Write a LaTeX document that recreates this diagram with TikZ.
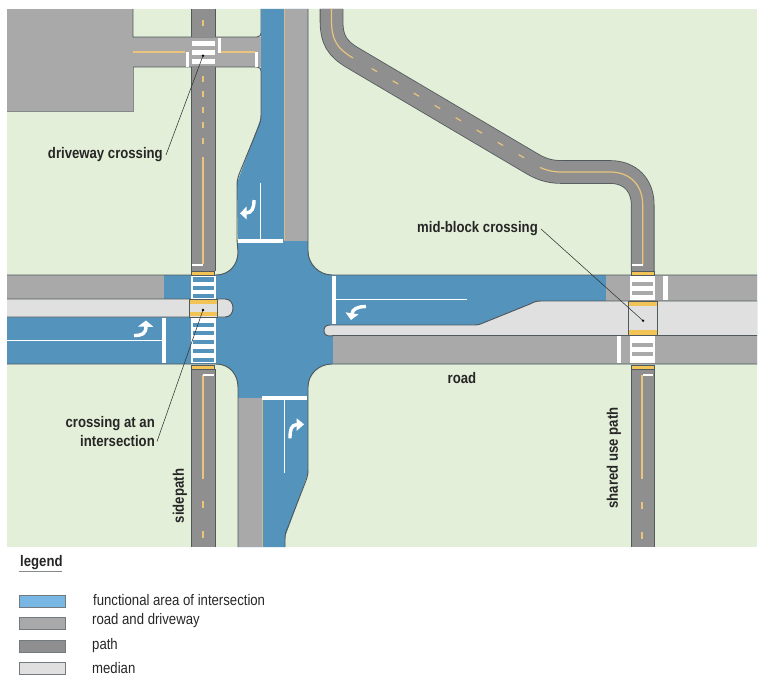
\documentclass[tikz,border=0pt]{standalone}
\usepackage{fontspec}
\setmainfont{Liberation Sans}[FakeStretch=0.86]
\definecolor{grass}{HTML}{E4EFD9}
\definecolor{roadc}{HTML}{A9A9A9}
\definecolor{pathc}{HTML}{8F8F8F}
\definecolor{laneb}{HTML}{5393BC}
\definecolor{medc}{HTML}{E0E0E0}
\definecolor{legb}{HTML}{78B6E4}
\definecolor{edge}{HTML}{50595C}
\definecolor{stripe}{HTML}{E8C47C}
\definecolor{barc}{HTML}{F2C355}
\definecolor{tan}{HTML}{CDBE8C}
\tikzset{
  x=1pt,y=-1pt,
  curb/.style={draw=edge,line width=.95pt},
  yline/.style={draw=stripe,line width=1.2pt},
  wbar/.style={fill=white},
  lane/.style={draw=white,line width=0.8pt},
  callout/.style={font=\bfseries\fontsize{15.3}{17}\selectfont,inner sep=0pt,text=black!85},
  leader/.style={draw=black!80,line width=0.55pt},
  swatch/.style={draw=edge!80,line width=0.9pt,minimum width=46pt,minimum height=12pt,inner sep=0pt,anchor=north west},
  legtext/.style={font=\fontsize{15.3}{17}\selectfont,inner sep=0pt,anchor=west,text=black!85},
}
\newcommand{\turnarrow}[7]{%
  \draw[white,line width=3.4pt] #1 .. controls #2 and #3 .. #4;
  \fill[white] #5 -- #6 -- #7 -- cycle;}
\newcommand{\meanderline}{(331.5,9) -- (331.5,20) .. controls (331.5,40) and (337,48.5) .. (353,58) -- (530,162.5) .. controls (540,168.5) and (548,172) .. (562,172) -- (610,172) .. controls (630,172) and (642.7,185) .. (642.7,205) -- (642.7,271)}
\begin{document}
\begin{tikzpicture}
\useasboundingbox (0,0) rectangle (765,682);
\fill[grass] (7,9) rectangle (757,547);
% driveway and parking block
\fill[roadc] (7,9) rectangle (133,112);
\fill[roadc] (133,37) rectangle (262,67);
\draw[edge!70,line width=1pt] (7,112) -- (133,112) -- (133,67);
\draw[curb] (133,9) -- (133,37) -- (257,37) .. controls (260,37) and (261,35) .. (261,33) -- (261,9);
\draw[curb] (133,67) -- (257,67) .. controls (260,67) and (261,69) .. (261,71);
% blue road surface
\fill[laneb] (261,9) -- (308,9) -- (308,251) .. controls (308,264) and (319,275) .. (332,275)
  -- (757,275) -- (757,364) -- (332,364) .. controls (319,364) and (308,374) .. (308,387)
  -- (308,473) -- (285,537) -- (285,547) -- (238,547) -- (238,387)
  .. controls (238,374) and (229,364) .. (216,364) -- (7,364) -- (7,275) -- (216,275)
  .. controls (229,275) and (238,265) .. (238,252) -- (237,183) -- (261,118) -- cycle;
% gray parts of the road
\fill[roadc] (284,9) rectangle (308,241);
\fill[roadc] (238,398) rectangle (262,547);
\fill[roadc] (7,275) rectangle (164,299);
\fill[roadc] (606,275) rectangle (757,302);
\fill[roadc] (333,335) rectangle (757,364);
\draw[tan,line width=1pt] (284,9) -- (284,240);
\draw[tan,line width=1pt] (262,398) -- (262,547);
% medians
\draw[curb,fill=medc] (7,299) -- (225,299) .. controls (230,299) and (233,303) .. (233,308) .. controls (233,313) and (230,317) .. (225,317) -- (7,317);
\draw[curb,fill=medc] (757,301) -- (541,301) .. controls (536,301) and (534,302) .. (530,304) -- (483,323) .. controls (479,325) and (476,325) .. (472,325) -- (330,325) .. controls (326,325) and (324,327) .. (324,330.5) .. controls (324,334) and (326,336) .. (330,336) -- (334,335.5) -- (757,335.5);
% curbs
\draw[curb] (261,71) -- (261,115) .. controls (261,120) and (260,123) .. (258,128) -- (240,172) .. controls (238,177) and (237,180) .. (237,186) -- (237,240) -- (238,252) .. controls (238,265) and (229,275) .. (216,275) -- (7,275);
\draw[curb] (308,9) -- (308,251) .. controls (308,264) and (319,275) .. (332,275) -- (757,275);
\draw[curb] (7,364) -- (216,364) .. controls (229,364) and (238,374) .. (238,387) -- (238,547);
\draw[curb] (757,364) -- (332,364) .. controls (319,364) and (308,374) .. (308,387) -- (308,470) .. controls (308,475) and (307,478) .. (305,483) -- (288,527) .. controls (286,531) and (285,534) .. (285,539) -- (285,547);
% paths
\foreach \ya/\yb in {9/37,67/271,369/547}{
  \fill[pathc] (191,\ya) rectangle (215,\yb);
  \draw[curb] (191,\ya) -- (191,\yb) (215,\ya) -- (215,\yb);
}
\foreach \ya/\yb in {369/547}{
  \fill[pathc] (631,\ya) rectangle (654,\yb);
  \draw[curb] (631,\ya) -- (631,\yb) (654,\ya) -- (654,\yb);
}
\draw[edge,line width=23.6pt] \meanderline;
\draw[pathc,line width=22pt] \meanderline;
% path centre lines
\draw[yline] (331.5,9) -- (331.5,20) .. controls (331.5,40) and (337,48.5) .. (353,58);
\foreach \i in {0,...,7}{
  \draw[yline] ({371.7+\i*21},{68.5+\i*12.3}) -- ++(5.4,3.2);
}
\draw[yline] (540,167.5) .. controls (546,170) and (552,172) .. (562,172) -- (610,172) .. controls (630,172) and (642.7,185) .. (642.7,205) -- (642.7,265);
\draw[yline] (203,157) -- (203,264);
\foreach \y in {20,76,91,107,122,138}{\draw[yline] (203,\y) -- ++(0,6);}
\draw[yline] (203,375) -- (203,479);
\draw[yline] (203,501) -- (203,508) (203,531) -- (203,538);
\draw[yline] (642,375) -- (642,479);
\draw[yline] (642,502) -- (642,509) (642,532) -- (642,539);
\draw[yline] (133,52) -- (185,52) (221,52) -- (255,52);
\fill[white] (192,263.5) rectangle (203,266);
\fill[white] (203,373.5) rectangle (214,376);
\fill[white] (632,263.5) rectangle (642.5,266);
\fill[white] (642.5,373.5) rectangle (653,376);
% driveway crossing
\foreach \y in {41,50,59}{\fill[white] (192,\y) rectangle (215,{\y+5});}
\fill[white] (186,52) rectangle (188.5,67);
\fill[white] (218,38) rectangle (220.5,53);
\fill[white] (255,52) rectangle (257.5,67);
% crossing at the intersection
\fill[white] (191,276) rectangle (216,299);
\fill[white] (191,317) rectangle (216,363);
\foreach \y/\h in {277/5,286/4,294/4,323/4,331/4,340/4,349/4,358/4}{
  \fill[laneb] (193,\y) rectangle (214,{\y+\h});
}
\draw[edge,line width=1pt,fill=medc] (189,299) rectangle (217,317);
\fill[barc] (189.5,300) rectangle (216.5,304);
\fill[barc] (189.5,312) rectangle (216.5,316);
\draw[edge,line width=.8pt,fill=barc] (191.5,271) rectangle (214.5,275);
\draw[edge,line width=.8pt,fill=barc] (191.5,365) rectangle (214.5,369);
% mid-block crossing
\fill[white] (630,276) rectangle (655,300);
\fill[white] (630,336) rectangle (655,363);
\foreach \y in {282,291,343,352}{\fill[roadc] (632,\y) rectangle (653,{\y+4});}
\fill[white] (663,276) rectangle (668,300);
\fill[white] (617,336) rectangle (621,363);
\draw[edge,line width=1pt,fill=medc] (628,301) rectangle (657,335);
\fill[barc] (628.5,301.5) rectangle (656.5,306);
\fill[barc] (628.5,330) rectangle (656.5,334.5);
\draw[edge,line width=.8pt,fill=barc] (631,271) rectangle (654,275);
\draw[edge,line width=.8pt,fill=barc] (631,365) rectangle (654,369);
% stop bars, lane lines, arrows
\fill[white] (238,239) rectangle (283,243);
\draw[lane] (260,183) -- (260,240);
\fill[white] (262,396) rectangle (307,400);
\draw[lane] (284,400) -- (284,473);
\fill[white] (332,276) rectangle (336,324);
\draw[lane] (336,299.5) -- (467,299.5);
\fill[white] (162,318) rectangle (166,363);
\draw[lane] (7,340) -- (162,340);
\turnarrow{(134,335.5)}{(142,335.5)}{(146,334)}{(146,326)}{(138,326.5)}{(146,320.5)}{(153.5,327)}
\turnarrow{(254,200)}{(254,208)}{(252,213)}{(246,213)}{(246.7,206.5)}{(240,213.3)}{(246.7,219.5)}
\turnarrow{(366,306.5)}{(358,306.5)}{(352,309)}{(352,314)}{(345.5,312.3)}{(351,320)}{(358.5,314.3)}
\turnarrow{(290,438.3)}{(290,430)}{(291,425)}{(297,424.5)}{(296.7,418.3)}{(304,424.3)}{(296.7,430.8)}
% labels
\node[callout,anchor=east] (dc) at (163,155) {driveway crossing};
\node[callout,anchor=east] (mb) at (538,229) {mid-block crossing};
\node[callout,anchor=center] (rd) at (462,378) {road};
\node[callout,anchor=east,align=right] (ci) at (155,431.5) {crossing at an\\[2pt]intersection};
\node[callout,rotate=90,anchor=center] (sp) at (180,496) {sidepath};
\node[callout,rotate=90,anchor=center] (su) at (614,458) {shared use path};
\coordinate (dcend) at (203,55.7);
\coordinate (ciend) at (203,310);
\coordinate (mbend) at (643,320.7);
\draw[leader] ([xshift=3pt]dc.east) -- (dcend);
\draw[leader] ([xshift=2pt,yshift=-10pt]ci.east) -- (ciend);
\draw[leader] ([xshift=3pt]mb.east) -- (mbend);
\fill (dcend) circle (1.3pt) (ciend) circle (1.3pt) (mbend) circle (1.3pt);
% legend
\node[callout,anchor=west] (lg) at (20,563) {legend};
\draw[edge!70,line width=.7pt] (19,571.5) -- (62,571.5);
\node[swatch,fill=legb] (s1) at (19,595) {};
\node[swatch,fill=roadc] (s2) at (19,617) {};
\node[swatch,fill=pathc] (s3) at (19,640) {};
\node[swatch,fill=medc] (s4) at (19,662) {};
\node[legtext] (t1) at (93,600) {functional area of intersection};
\node[legtext] (t2) at (92,621) {road and driveway};
\node[legtext] (t3) at (92,646) {path};
\node[legtext] (t4) at (92,668) {median};
\end{tikzpicture}
\end{document}
